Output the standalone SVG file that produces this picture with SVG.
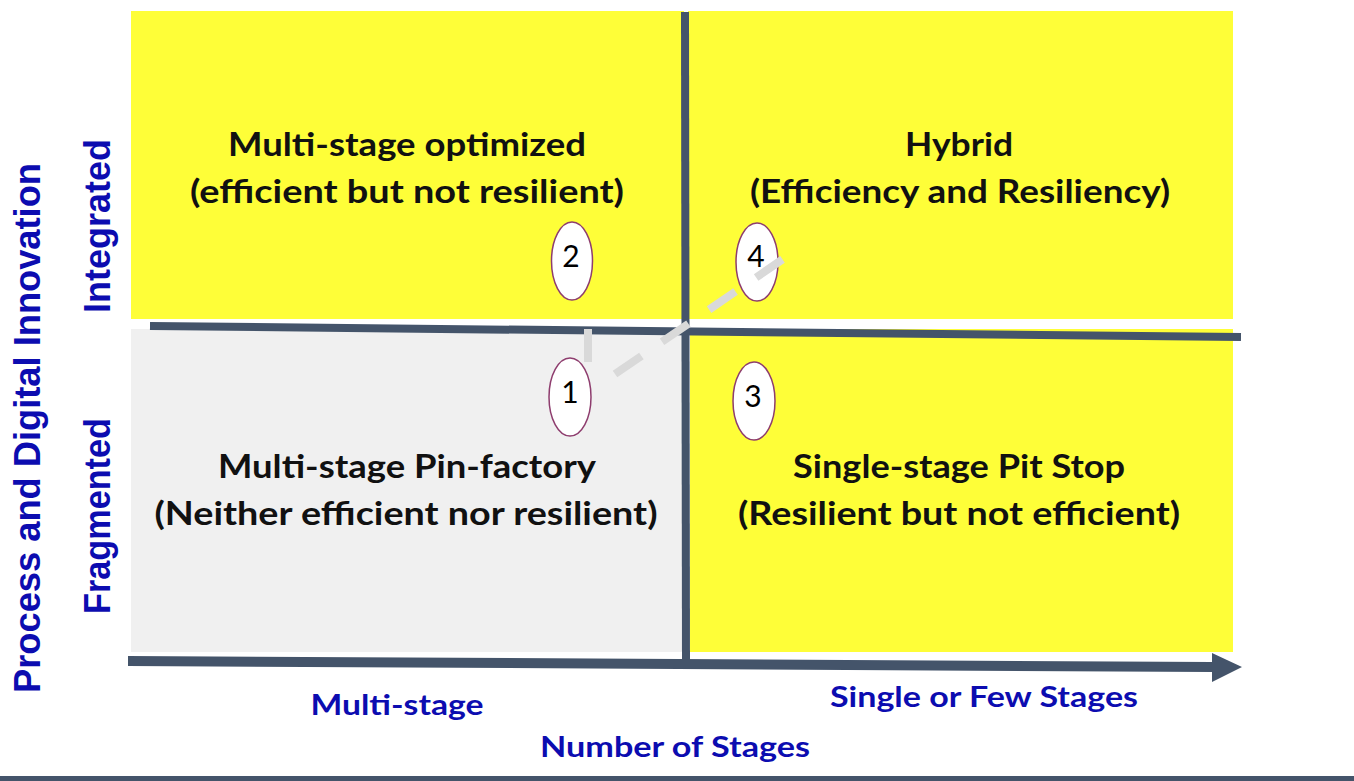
<svg xmlns="http://www.w3.org/2000/svg" width="1354" height="781" viewBox="0 0 1354 781">
<style>
.q{font-family:Lato,"Liberation Sans",sans-serif;font-weight:bold;font-size:33px;fill:#111;text-anchor:middle}
.ax{font-family:Lato,"Liberation Sans",sans-serif;font-weight:bold;font-size:29px;fill:#0c0cb0;text-anchor:middle}
.vx{font-family:"Liberation Sans",Arial,sans-serif;font-weight:bold;font-size:36px;fill:#0c0cb0;text-anchor:middle}
.num{font-family:Lato,"Liberation Sans",sans-serif;font-size:30px;fill:#000;text-anchor:middle}
.el{fill:#fff;stroke:#8e3d6e;stroke-width:1.5}
.dv{stroke:#44546a;stroke-width:8;fill:none}
</style>
<rect width="1354" height="781" fill="#fff"/>
<g id="q-top-left"><rect x="131" y="11" width="553" height="308" fill="#fefe38"/>
<text class="q" x="407" y="156" textLength="358" lengthAdjust="spacingAndGlyphs">Multi-stage optimized</text>
<text class="q" x="407" y="203" textLength="434" lengthAdjust="spacingAndGlyphs">(efficient but not resilient)</text></g>
<g id="q-top-right"><rect x="688" y="11" width="545" height="308" fill="#fefe38"/>
<text class="q" x="959" y="156" textLength="108" lengthAdjust="spacingAndGlyphs">Hybrid</text>
<text class="q" x="960" y="203" textLength="420" lengthAdjust="spacingAndGlyphs">(Efficiency and Resiliency)</text></g>
<g id="q-bottom-left"><rect x="131" y="329" width="554" height="323" fill="#f0f0f0"/>
<text class="q" x="407" y="478" textLength="378" lengthAdjust="spacingAndGlyphs">Multi-stage Pin-factory</text>
<text class="q" x="406" y="525" textLength="503" lengthAdjust="spacingAndGlyphs">(Neither efficient nor resilient)</text></g>
<g id="q-bottom-right"><rect x="690" y="329" width="543" height="323" fill="#fefe38"/>
<text class="q" x="959" y="478" textLength="332" lengthAdjust="spacingAndGlyphs">Single-stage Pit Stop</text>
<text class="q" x="959" y="525" textLength="442" lengthAdjust="spacingAndGlyphs">(Resilient but not efficient)</text></g>
<g id="axes">
<line class="dv" x1="150" y1="326" x2="1241" y2="337"/>
<line class="dv" x1="685" y1="12" x2="686" y2="665"/>
<path d="M128 656 L1212 662 L1212 653 L1242 667 L1212 682 L1212 672 L128 666 Z" fill="#44546a"/>
</g>
<g id="n2"><ellipse class="el" cx="572" cy="261" rx="20.5" ry="39"/><text class="num" x="571" y="267">2</text></g>
<g id="n4"><ellipse class="el" cx="757" cy="262" rx="21" ry="39"/><text class="num" x="756" y="267">4</text></g>
<g id="n1"><ellipse class="el" cx="570" cy="397" rx="21" ry="39"/><text class="num" x="570" y="403">1</text></g>
<g id="n3"><ellipse class="el" cx="754" cy="401" rx="21" ry="39"/><text class="num" x="753" y="407">3</text></g>
<g id="connectors">
<line x1="588" y1="329" x2="588" y2="362" stroke="#d9d9d9" stroke-width="8"/>
<line x1="615" y1="374" x2="786" y2="257" stroke="#d9d9d9" stroke-width="8" stroke-dasharray="32 25"/>
</g>
<g id="labels">
<text class="ax" x="397" y="715" textLength="173" lengthAdjust="spacingAndGlyphs">Multi-stage</text>
<text class="ax" x="984" y="707" textLength="308" lengthAdjust="spacingAndGlyphs">Single or Few Stages</text>
<text class="ax" x="675" y="757" textLength="270" lengthAdjust="spacingAndGlyphs">Number of Stages</text>
<text class="vx" transform="translate(40,428) rotate(-90)" font-size="37" textLength="530" lengthAdjust="spacingAndGlyphs" style="font-size:37px">Process and Digital Innovation</text>
<text class="vx" transform="translate(110,226) rotate(-90)" textLength="174" lengthAdjust="spacingAndGlyphs">Integrated</text>
<text class="vx" transform="translate(110,516) rotate(-90)" textLength="196" lengthAdjust="spacingAndGlyphs">Fragmented</text>
</g>
<rect x="0" y="776" width="1354" height="5" fill="#44546a"/>
</svg>
